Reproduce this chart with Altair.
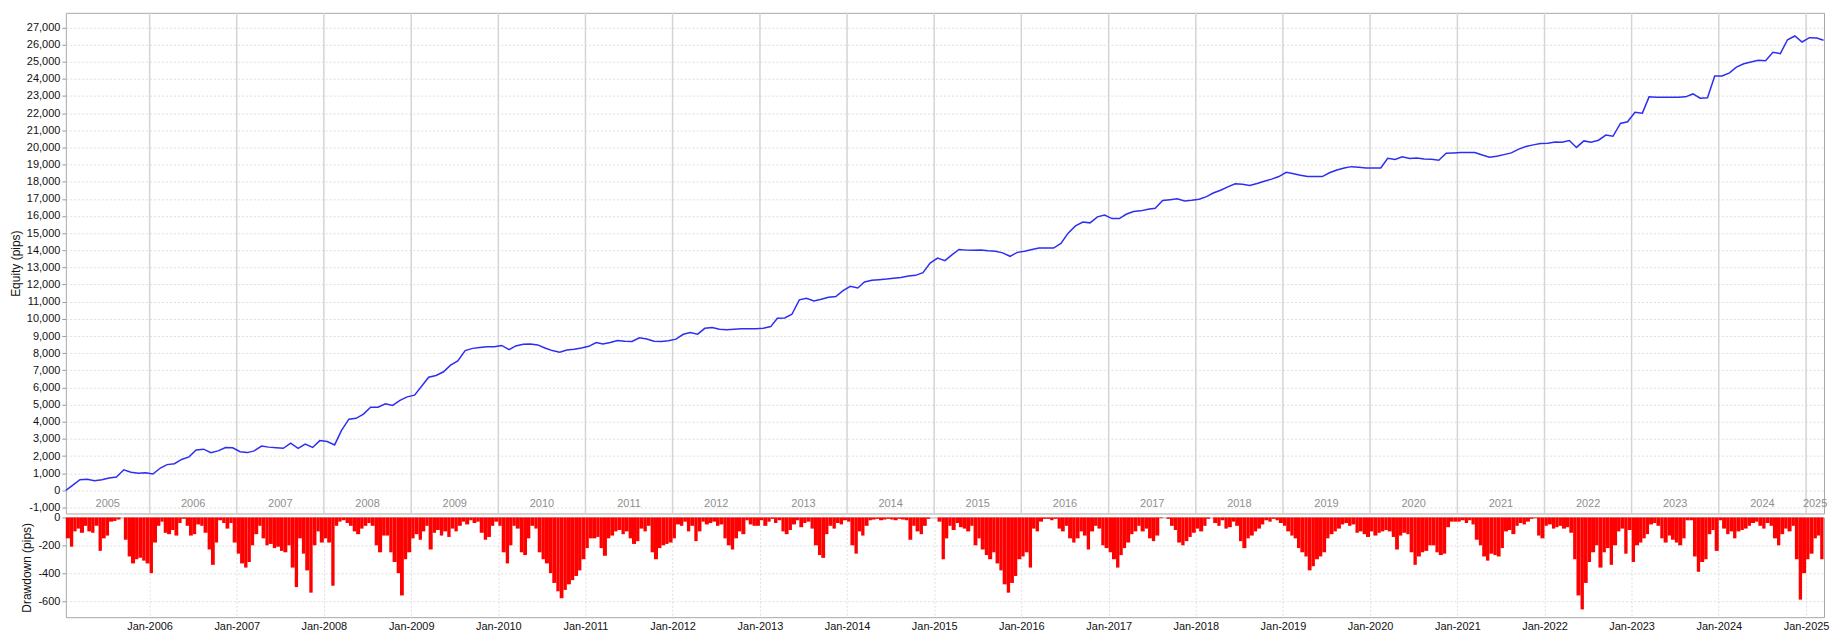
import altair as alt
import pandas as pd

# ---------------- Equity (pips), monthly readings (15th of each month) ----------------
eq_2005 = [0, 320, 620, 640, 560, 620, 720, 780, 1200, 1050, 1000, 1020]
eq_2006 = [950, 1300, 1500, 1550, 1800, 1950, 2350, 2400, 2200, 2300, 2500, 2480]
eq_2007 = [2250, 2200, 2300, 2580, 2520, 2480, 2450, 2750, 2450, 2700, 2500, 2900]
eq_2008 = [2850, 2650, 3500, 4150, 4200, 4450, 4850, 4850, 5050, 4950, 5250, 5450]
eq_2009 = [5550, 6100, 6600, 6700, 6900, 7300, 7550, 8150, 8280, 8330, 8370, 8380]
eq_2010 = [8450, 8200, 8420, 8520, 8540, 8480, 8300, 8150, 8060, 8180, 8230, 8300]
eq_2011 = [8400, 8620, 8530, 8620, 8740, 8700, 8680, 8900, 8830, 8700, 8680, 8720]
eq_2012 = [8820, 9100, 9200, 9110, 9450, 9500, 9400, 9360, 9400, 9420, 9420, 9420]
eq_2013 = [9450, 9550, 10040, 10050, 10270, 11110, 11200, 11050, 11150, 11260, 11300, 11650]
eq_2014 = [11900, 11800, 12150, 12250, 12280, 12320, 12370, 12420, 12500, 12540, 12700, 13250]
eq_2015 = [13550, 13400, 13720, 14050, 14010, 14000, 14020, 13980, 13950, 13850, 13650, 13880]
eq_2016 = [13950, 14050, 14130, 14130, 14130, 14400, 15000, 15420, 15650, 15600, 15950, 16060]
eq_2017 = [15850, 15850, 16100, 16260, 16300, 16400, 16450, 16900, 16950, 17000, 16880, 16920]
eq_2018 = [16980, 17130, 17340, 17500, 17700, 17880, 17850, 17780, 17900, 18030, 18150, 18300]
eq_2019 = [18550, 18460, 18380, 18300, 18300, 18300, 18520, 18680, 18800, 18880, 18840, 18800]
eq_2020 = [18800, 18800, 19370, 19300, 19450, 19350, 19380, 19330, 19310, 19250, 19660, 19680]
eq_2021 = [19700, 19700, 19700, 19560, 19430, 19480, 19580, 19680, 19900, 20050, 20150, 20230]
eq_2022 = [20250, 20320, 20300, 20400, 20000, 20380, 20300, 20420, 20720, 20650, 21400, 21500]
eq_2023 = [22050, 22000, 22950, 22930, 22920, 22920, 22920, 22950, 23120, 22870, 22900, 24170]
eq_2024 = [24170, 24350, 24680, 24880, 24980, 25080, 25060, 25550, 25470, 26280, 26500, 26150]
eq_2025 = [26400, 26380, 26250]

# ---------------- Drawdown (pips), half-month readings ----------------
dd_2005 = [-150, -210, -100, -80, -110, -60, -100, -110, -60, -240, -150, -130,
           -30, -25, -15, 0, -160, -280, -330, -300, -290, -310, -330]
dd_2006 = [-400, -180, -60, -30, -110, -120, -90, -130, -40, -10, -60, -130,
           -120, -50, -60, -110, -230, -340, -180, -20, -40, -80, -40, -180]
dd_2007 = [-260, -330, -360, -320, -200, -120, -60, -150, -200, -190, -220, -210,
           -240, -250, -200, -360, -500, -150, -260, -380, -540, -200, -100, -180]
dd_2008 = [-150, -180, -490, -60, -30, -20, -40, -60, -100, -120, -80, -60,
           -40, -60, -200, -250, -130, -130, -250, -320, -400, -560, -300, -250]
dd_2009 = [-150, -120, -160, -100, -60, -230, -110, -90, -130, -100, -140, -80,
           -100, -60, -30, -50, -20, -40, -30, -110, -160, -140, -60, -30]
dd_2010 = [-60, -250, -330, -200, -60, -80, -250, -270, -150, -60, -80, -250,
           -300, -330, -400, -470, -530, -580, -520, -480, -450, -420, -380, -300]
dd_2011 = [-220, -150, -150, -140, -220, -275, -150, -130, -100, -90, -120, -100,
           -150, -190, -170, -80, -100, -60, -250, -300, -220, -200, -190, -180]
dd_2012 = [-150, -50, -60, -30, -100, -60, -170, -100, -30, -50, -40, -30,
           -60, -50, -150, -200, -230, -150, -100, -120, -20, -50, -60, -60]
dd_2013 = [-20, -60, -30, -10, -40, -20, -100, -120, -90, -50, -20, -70,
           -40, -30, -80, -200, -270, -290, -120, -60, -80, -40, -50, -20]
dd_2014 = [-30, -200, -260, -100, -130, -60, -20, -15, -10, -20, -15, -10,
           -15, -20, -10, -15, -20, -160, -60, -100, -120, -60, -10, 0]
dd_2015 = [0, -30, -300, -150, -60, -90, -40, -70, -80, -100, -60, -200,
           -150, -230, -270, -300, -250, -330, -380, -480, -540, -470, -420, -300]
dd_2016 = [-280, -250, -360, -80, -100, -30, -10, -10, -20, -10, -80, -100,
           -60, -150, -180, -150, -100, -130, -230, -100, -60, -80, -200, -220]
dd_2017 = [-250, -300, -360, -270, -220, -180, -120, -100, -60, -100, -80, -150,
           -170, -130, -5, 0, -10, -60, -90, -180, -200, -170, -140, -110]
dd_2018 = [-80, -100, -60, -10, 0, -40, -60, -20, -80, -70, -30, -60,
           -170, -220, -150, -130, -100, -80, -50, -20, -30, -10, -20, -40]
dd_2019 = [-60, -100, -130, -150, -220, -250, -280, -380, -350, -300, -280, -250,
           -150, -120, -100, -80, -50, -40, -60, -50, -110, -100, -120, -140]
dd_2020 = [-100, -130, -110, -100, -90, -100, -140, -230, -130, -110, -120, -250,
           -340, -280, -250, -240, -200, -200, -250, -270, -260, -70, -30, -30]
dd_2021 = [-30, -20, -40, -20, -50, -160, -200, -280, -310, -260, -270, -280,
           -220, -100, -90, -120, -60, -40, -50, -30, -10, -5, -130, -150]
dd_2022 = [-60, -50, -80, -70, -60, -80, -70, -110, -300, -560, -660, -470,
           -320, -250, -200, -360, -250, -220, -340, -200, -100, -80, -260, -90]
dd_2023 = [-320, -200, -180, -150, -120, -50, -40, -60, -150, -180, -130, -160,
           -180, -200, -150, -20, -20, -280, -390, -320, -300, -120, -90, -240]
dd_2024 = [-20, -80, -120, -100, -150, -100, -90, -80, -60, -40, -30, -60,
           -80, -40, -60, -150, -200, -120, -80, -100, -60, -300, -590, -400]
dd_2025 = [-300, -260, -150, -130, -300]

years = list(range(2005, 2026))
eq_by_year = [eq_2005, eq_2006, eq_2007, eq_2008, eq_2009, eq_2010, eq_2011,
              eq_2012, eq_2013, eq_2014, eq_2015, eq_2016, eq_2017, eq_2018,
              eq_2019, eq_2020, eq_2021, eq_2022, eq_2023, eq_2024, eq_2025]
dd_by_year = [dd_2005, dd_2006, dd_2007, dd_2008, dd_2009, dd_2010, dd_2011,
              dd_2012, dd_2013, dd_2014, dd_2015, dd_2016, dd_2017, dd_2018,
              dd_2019, dd_2020, dd_2021, dd_2022, dd_2023, dd_2024, dd_2025]

FMT = "%Y-%m-%dT%H:%M:%S"
dom_start = pd.Timestamp("2005-01-15")
dom_end = pd.Timestamp("2025-03-17")

# equity table
eq_rows = []
for y, vals in zip(years, eq_by_year):
    for i, v in enumerate(vals):
        eq_rows.append({"date": f"{y}-{i + 1:02d}-15T00:00:00", "equity": v})
eq_df = pd.DataFrame(eq_rows)

# drawdown table (half-month bars)
dd_vals = [v for vals in dd_by_year for v in vals]
edges = pd.date_range("2005-01-15", periods=len(dd_vals) + 1, freq="SMS")
dd_df = pd.DataFrame({
    "start": edges[:-1].strftime(FMT),
    "end": edges[1:].strftime(FMT),
    "dd": dd_vals,
})

# year separators and year labels for the top panel
sep_df = pd.DataFrame({"date": [f"{y}-01-01T00:00:00" for y in years[1:]]})
lab_rows = []
for y in years:
    a = max(pd.Timestamp(f"{y}-01-01"), dom_start)
    b = min(pd.Timestamp(f"{y + 1}-01-01"), dom_end)
    lab_rows.append({"date": (a + (b - a) / 2).strftime(FMT), "year": str(y)})
lab_df = pd.DataFrame(lab_rows)

x_scale = alt.Scale(domain=[alt.DateTime(year=2005, month=1, date=15),
                            alt.DateTime(year=2025, month=3, date=17)])
num_label = "replace(format(datum.value, ','), '\u2212', '-')"

W = 1763

rules = alt.Chart(sep_df).mark_rule(color="#d4d4d4", strokeWidth=1.5).encode(
    x=alt.X("date:T", scale=x_scale, axis=None)
)
line = alt.Chart(eq_df).mark_line(color="#2e2ef2", strokeWidth=1.5).encode(
    x=alt.X("date:T", scale=x_scale, axis=None),
    y=alt.Y("equity:Q",
            scale=alt.Scale(domain=[-1350, 27850], nice=False, zero=False),
            axis=alt.Axis(values=list(range(-1000, 28000, 1000)),
                          labelExpr=num_label, title="Equity (pips)")),
)
year_text = alt.Chart(lab_df).mark_text(
    color="#8e8e8e", fontSize=11, font="Liberation Sans", baseline="middle"
).encode(
    x=alt.X("date:T", scale=x_scale, axis=None),
    y=alt.value(493),
    text="year:N",
)
top = alt.layer(rules, line, year_text).properties(width=W, height=502)

bars = alt.Chart(dd_df).mark_bar(color="#ff0000").encode(
    x=alt.X("start:T", scale=x_scale,
            axis=alt.Axis(values=[alt.DateTime(year=y, month=1, date=1) for y in years[1:]],
                          format="%b-%Y", title=None, ticks=False, labelPadding=3,
                          domain=False, labelFontSize=11)),
    x2="end:T",
    y=alt.Y("dd:Q", scale=alt.Scale(domain=[-716, 0], nice=False),
            axis=alt.Axis(values=[0, -200, -400, -600],
                          labelExpr=num_label, title="Drawdown (pips)")),
    y2=alt.datum(0),
)
bottom = bars.properties(width=W, height=100)

chart = alt.vconcat(top, bottom, spacing=4, bounds="flush").properties(
    padding={"left": 0, "top": 2, "right": 0, "bottom": 0}
).configure_axis(
    labelFont="Liberation Sans", labelFontSize=11, labelColor="#111111",
    titleFont="Liberation Sans", titleFontSize=12, titleFontWeight="normal",
    titleColor="#111111", titlePadding=4,
    gridColor="#dedede", gridDash=[2, 2], tickColor="#999999", tickSize=4,
    domain=False,
).configure_view(stroke="#a8a8a8")

chart.save("out.html", embed_options={"renderer": "svg", "actions": False})
